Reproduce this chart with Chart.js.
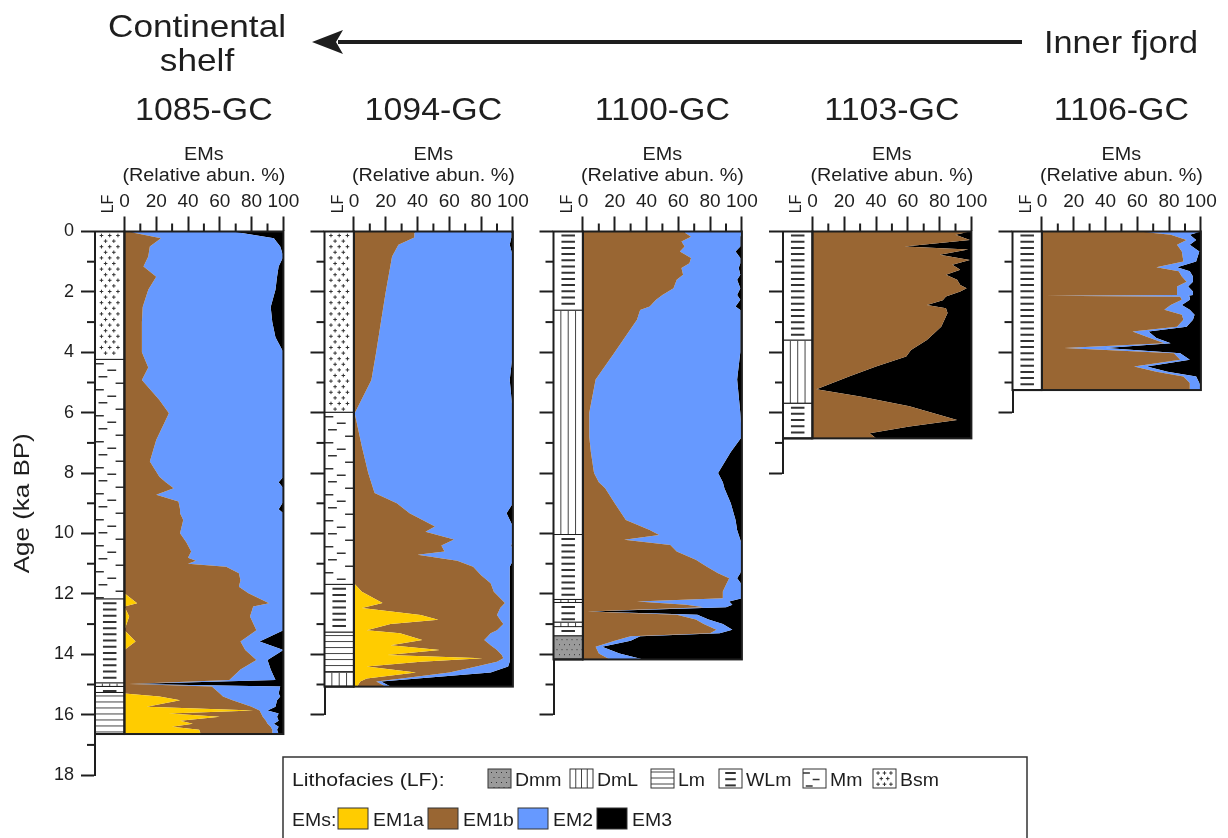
<!DOCTYPE html>
<html>
<head>
<meta charset="utf-8">
<script src="https://cdn.jsdelivr.net/npm/chart.js"></script>
<style>
  html, body { margin: 0; padding: 0; background: #fff; }
  #wrap { position: relative; width: 1228px; height: 838px; overflow: hidden; }
  #wrap canvas { position: absolute; left: 0; top: 0; }
</style>
</head>
<body>
<div id="wrap">
  <canvas id="c0" width="1228" height="838"></canvas>
  <canvas id="c1" width="1228" height="838"></canvas>
  <canvas id="c2" width="1228" height="838"></canvas>
  <canvas id="c3" width="1228" height="838"></canvas>
  <canvas id="c4" width="1228" height="838"></canvas>
</div>
<script>
// ---- data ----
const cores = ["1085-GC", "1094-GC", "1100-GC", "1103-GC", "1106-GC"];
const axisMax = [18, 16, 16, 8, 6];
const emNames = ["EM1a", "EM1b", "EM2", "EM3"];
const emColors = ["#FFCC00", "#996633", "#6699FF", "#000000"];
const lfKinds = ["Dmm", "DmL", "Lm", "WLm", "Mm", "Bsm"];
const xTicks = [0, 20, 40, 60, 80, 100];
const yTicks = [0, 2, 4, 6, 8, 10, 12, 14, 16, 18];

// 1085-GC
const age1085 = [0, 0.22, 0.5, 0.83, 1.16, 1.5, 1.93, 2.5, 3.0, 3.5, 4.0, 4.5, 4.92, 5.58, 6.02, 6.9, 7.62, 8.12, 8.3, 8.5,
  8.72, 8.94, 9.2, 9.33, 9.55, 9.99, 10.3, 10.6, 10.8, 10.9, 11.0, 11.1, 11.32, 11.55, 11.76, 11.98, 12.31, 12.42, 12.75, 13.2,
  13.58, 13.86, 14.19, 14.5, 14.85, 14.98, 15.07, 15.3, 15.4, 15.52, 15.74, 15.86, 15.96, 16.07, 16.2, 16.3, 16.4, 16.5, 16.64];
const em1a1085 = [0, 0, 0, 0, 0, 0, 0, 0, 0, 0, 0, 0, 0, 0, 0, 0, 0, 0, 0, 0,
  0, 0, 0, 0, 0, 0, 0, 0, 0, 0, 0, 0, 0, 0, 0, 0, 8, 0, 3, 0,
  7, 0, 0, 0, 0, 0, 0, 0, 22, 35, 14, 81, 28, 60, 35, 43, 30, 47, 48];
const em1b1085 = [2, 23, 16, 15, 12, 20, 15, 11.5, 11, 11, 11, 15, 11, 22, 28, 20, 16, 22, 26, 31,
  20, 34, 35, 35, 37, 35, 39, 42, 40, 45, 40, 64, 72, 73, 72, 78, 83, 81, 76, 83,
  66, 76, 83, 73, 66, 3, 55, 60, 40, 33, 66, 4, 58, 27, 54, 47, 62, 46, 45];
const em2_1085 = [66, 71, 82, 85, 85, 76, 80, 80.5, 82, 84, 89, 85, 89, 78, 72, 80, 84, 78, 71, 69,
  80, 66, 62, 65, 63, 65, 61, 58, 60, 55, 60, 36, 28, 27, 28, 22, 9, 19, 21, 17,
  12, 24, 7, 19, 29, 0, 43, 37, 36, 28, 15, 5, 11, 9, 8, 4, 5, 3, 4];
const em3_1085 = [32, 6, 2, 0, 3, 4, 5, 8, 7, 5, 0, 0, 0, 0, 0, 0, 0, 0, 3, 0,
  0, 0, 3, 0, 0, 0, 0, 0, 0, 0, 0, 0, 0, 0, 0, 0, 0, 0, 0, 0,
  15, 0, 10, 8, 5, 97, 2, 3, 2, 4, 5, 10, 3, 4, 3, 6, 3, 4, 3];
const lf1085 = [[0, 4.25, "Bsm"], [4.25, 12.18, "Mm"], [12.18, 14.96, "WLm"], [14.96, 15.08, "DmL"], [15.08, 15.28, "WLm"], [15.28, 16.64, "Lm"]];

// 1094-GC
const age1094 = [0, 0.2, 0.44, 0.83, 2.0, 3.0, 4.0, 4.92, 6.02, 7.12, 8.0, 8.66, 9.0, 9.33, 9.77, 9.94, 10.2, 10.4, 10.6, 10.7,
  10.9, 11.1, 11.38, 11.65, 11.93, 12.3, 12.47, 12.7, 12.86, 13.0, 13.2, 13.3, 13.53, 13.7, 13.86, 14.02, 14.13, 14.25, 14.4, 14.6,
  14.8, 14.9, 15.07];
const em1a1094 = [0, 0, 0, 0, 0, 0, 0, 0, 0, 0, 0, 0, 0, 0, 0, 0, 0, 0, 0, 0,
  0, 0, 0, 0, 5, 18, 5, 42, 53, 23, 8, 29, 43, 23, 54, 21, 81, 42, 8, 39,
  8, 4, 2];
const em1b1094 = [38, 38, 28, 24, 20, 17, 14, 11, 0.5, 5, 9, 13, 27, 35, 51, 45, 63, 55, 57, 40,
  65, 75, 80, 86, 83, 77, 87, 48, 39, 71, 82, 57, 39, 63, 36, 72, 13, 48, 69, 21,
  22, 10, 18];
const em2_1094 = [61, 61, 70, 76, 80, 83, 86, 87, 99.5, 95, 91, 87, 73, 61, 49, 55, 37, 44, 43, 60,
  35, 23, 18, 12, 10, 3, 6, 8, 6, 4, 8, 12, 16, 12, 8, 5, 4, 8, 20, 26,
  10, 3, 3];
const em3_1094 = [1, 1, 2, 0, 0, 0, 0, 2, 0, 0, 0, 0, 0, 4, 0, 0, 0, 1, 0, 0,
  0, 2, 2, 2, 2, 2, 2, 2, 2, 2, 2, 2, 2, 2, 2, 2, 2, 2, 3, 14,
  60, 83, 77];
const lf1094 = [[0, 6.0, "Bsm"], [6.0, 11.7, "Mm"], [11.7, 13.28, "WLm"], [13.28, 14.6, "Lm"], [14.6, 15.07, "DmL"]];

// 1100-GC
const age1100 = [0, 0.17, 0.33, 0.5, 0.66, 0.88, 1.05, 1.21, 1.43, 1.6, 1.88, 2.1, 2.26, 2.48, 2.6, 2.92, 4.0, 4.9, 6.0, 6.8,
  7.3, 8.0, 8.3, 8.5, 9.0, 9.55, 9.88, 10.05, 10.21, 10.38, 10.6, 10.87, 11.1, 11.32, 11.48, 11.7, 11.92, 12.14, 12.25, 12.36,
  12.44, 12.58, 12.69, 12.85, 13.0, 13.19, 13.3, 13.4, 13.55, 13.75, 13.97, 14.17];
const em1a1100 = [0, 0, 0, 0, 0, 0, 0, 0, 0, 0, 0, 0, 0, 0, 0, 0, 0, 0, 0, 0,
  0, 0, 0, 0, 0, 0, 0, 0, 0, 0, 0, 0, 0, 0, 0, 0, 0, 0, 0, 0,
  0, 0, 0, 0, 0, 0, 0, 0, 0, 0, 0, 0];
const em1b1100 = [63, 68, 62, 64, 61, 68, 67, 62, 63, 59, 57, 50, 46, 42, 36, 34, 20, 8, 4, 4,
  5, 7, 10, 14, 20, 27, 42, 48, 26, 55, 59, 71, 78, 85, 92, 90, 88, 88, 34, 65,
  76, 3, 59, 71, 76, 84, 80, 30, 20, 8, 10, 17];
const em2_1100 = [37, 31, 37, 35, 35, 31, 32, 36, 36, 38, 42, 47, 53, 54, 63, 65, 79, 89, 95, 96,
  88, 78, 78, 75, 73, 69, 55, 50, 73, 45, 41, 29, 22, 14, 5, 10, 12, 12, 58, 29,
  14, 1, 13, 8, 12, 10, 6, 6, 10, 4, 13, 21];
const em3_1100 = [0, 1, 1, 1, 4, 1, 1, 2, 1, 3, 1, 3, 1, 4, 1, 1, 1, 3, 1, 0,
  7, 15, 12, 11, 7, 4, 3, 2, 1, 0, 0, 0, 0, 1, 3, 0, 0, 0, 8, 6,
  10, 96, 28, 21, 12, 6, 14, 64, 70, 88, 77, 62];
const lf1100 = [[0, 2.62, "WLm"], [2.62, 10.05, "DmL"], [10.05, 12.2, "WLm"], [12.2, 12.3, "DmL"], [12.3, 12.95, "WLm"],
  [12.95, 13.1, "DmL"], [13.1, 13.4, "WLm"], [13.4, 14.17, "Dmm"]];

// 1103-GC
const age1103 = [0, 0.11, 0.28, 0.5, 0.6, 0.77, 0.94, 1.1, 1.27, 1.43, 1.6, 1.77, 1.88, 1.99, 2.15, 2.28, 2.43, 2.54, 2.7, 3.15,
  3.59, 3.92, 4.14, 4.47, 4.8, 5.22, 5.46, 5.79, 6.24, 6.46, 6.68, 6.85];
const em1a1103 = [0, 0, 0, 0, 0, 0, 0, 0, 0, 0, 0, 0, 0, 0, 0, 0, 0, 0, 0, 0,
  0, 0, 0, 0, 0, 0, 0, 0, 0, 0, 0, 0];
const em1b1103 = [99, 90, 99, 58, 98, 80, 99, 88, 93, 84, 91, 93, 97, 93, 84, 82, 72, 84, 85, 81,
  72, 62, 59, 40, 23, 2.5, 30, 61, 91, 61, 36, 40];
const em2_1103 = [0, 0, 0, 0, 0, 0, 0, 0, 0, 0, 0, 0, 0, 0, 0, 0, 0, 0, 0, 0,
  0, 0, 0, 0, 0, 0, 0, 0, 0, 0, 0, 0];
const em3_1103 = [1, 10, 1, 42, 2, 20, 1, 12, 7, 16, 9, 7, 3, 7, 16, 18, 28, 16, 15, 19,
  28, 38, 41, 60, 77, 97.5, 70, 39, 9, 39, 64, 60];
const lf1103 = [[0, 3.61, "WLm"], [3.61, 5.7, "DmL"], [5.7, 6.85, "WLm"]];

// 1106-GC
const age1106 = [0, 0.11, 0.28, 0.44, 0.66, 0.99, 1.18, 1.32, 1.49, 1.66, 1.82, 1.99, 2.1, 2.13, 2.16, 2.26, 2.43, 2.59, 2.76, 2.92,
  3.15, 3.31, 3.53, 3.7, 3.86, 4.03, 4.25, 4.47, 4.64, 4.8, 5.02, 5.25];
const em1a1106 = [0, 0, 0, 0, 0, 0, 0, 0, 0, 0, 0, 0, 0, 0, 0, 0, 0, 0, 0, 0,
  0, 0, 0, 0, 0, 0, 0, 0, 0, 0, 0, 0];
const em1b1106 = [61, 81, 91, 85, 88, 89, 72, 86, 88, 91, 85, 85, 85, 2, 87, 88, 81, 77, 88, 89,
  85, 57, 68, 77, 14, 83, 87, 58, 72, 89, 93, 93];
const em2_1106 = [39, 12, 6, 8, 11, 8, 13, 7, 7, 4, 7, 10, 10, 90, 6, 5, 7, 16, 8, 6,
  6, 10, 4, 4, 26, 4, 6, 8, 7, 8, 6, 7];
const em3_1106 = [0, 7, 3, 7, 1, 3, 15, 7, 5, 5, 8, 5, 5, 8, 7, 7, 12, 7, 4, 5,
  9, 33, 28, 19, 60, 13, 7, 34, 21, 3, 1, 0];
const lf1106 = [[0, 5.25, "WLm"]];

// ---- layout ----
const FONT = '"Liberation Sans", Arial, sans-serif';
const INK = "#1e1e1e";
const LFU = 18.5;            // LF column width in x units (left of 0)
const TOP = 231.5, PX_KA = 30.2;
const lfLeft = [95, 324.5, 553.5, 783, 1012.5];
const PLOT_W = 188.4;

const coreData = [
  {age: age1085, em: [em1a1085, em1b1085, em2_1085, em3_1085], lf: lf1085},
  {age: age1094, em: [em1a1094, em1b1094, em2_1094, em3_1094], lf: lf1094},
  {age: age1100, em: [em1a1100, em1b1100, em2_1100, em3_1100], lf: lf1100},
  {age: age1103, em: [em1a1103, em1b1103, em2_1103, em3_1103], lf: lf1103},
  {age: age1106, em: [em1a1106, em1b1106, em2_1106, em3_1106], lf: lf1106}
];

function line(ctx, x1, y1, x2, y2, w, c) {
  ctx.save();
  ctx.strokeStyle = c || INK;
  ctx.lineWidth = w;
  ctx.beginPath();
  ctx.moveTo(x1, y1);
  ctx.lineTo(x2, y2);
  ctx.stroke();
  ctx.restore();
}

function text(ctx, s, x, y, size, sx, align, rot) {
  ctx.save();
  ctx.font = size + "px " + FONT;
  ctx.fillStyle = INK;
  ctx.textAlign = align || "center";
  ctx.textBaseline = "alphabetic";
  ctx.translate(x, y);
  if (rot) ctx.rotate(rot);
  ctx.scale(sx || 1, 1);
  ctx.fillText(s, 0, 0);
  ctx.restore();
}

function drawFacies(ctx, type, x, y, w, h) {
  ctx.save();
  ctx.beginPath();
  ctx.rect(x, y, w, h);
  ctx.clip();
  ctx.fillStyle = type === "Dmm" ? "#9a9a9a" : "#fff";
  ctx.fillRect(x, y, w, h);
  if (type === "Lm") {
    for (let yy = y + 3; yy < y + h; yy += 6) line(ctx, x, yy, x + w, yy, 1, "#444");
  } else if (type === "WLm") {
    for (let yy = y + 4; yy < y + h - 1; yy += 6.2) line(ctx, x + w * 0.27, yy, x + w * 0.73, yy, 2, "#333");
  } else if (type === "DmL") {
    [0.25, 0.5, 0.75].forEach(f => line(ctx, x + w * f, y, x + w * f, y + h, 1, "#444"));
  } else if (type === "Mm") {
    const pos = [[0, 0.3], [0.42, 0.72], [0.12, 0.42], [0.7, 1.0]];
    let k = 0;
    for (let yy = y + 4; yy < y + h - 1; yy += 6.5, k++) {
      const p = pos[k % 4];
      line(ctx, x + w * p[0], yy, x + w * p[1], yy, 1.5, "#333");
    }
  } else if (type === "Bsm") {
    let k = 0;
    for (let yy = y + 4; yy < y + h - 2; yy += 5.6, k++) {
      const xs = k % 2 ? [0.36, 0.64] : [0.22, 0.5, 0.78];
      xs.forEach(f => {
        const cx = x + w * f;
        line(ctx, cx - 1.8, yy, cx + 1.8, yy, 1, "#333");
        line(ctx, cx, yy - 1.8, cx, yy + 1.8, 1, "#333");
      });
    }
  } else if (type === "Dmm") {
    ctx.fillStyle = "#333";
    let k = 0;
    for (let yy = y + 3; yy < y + h; yy += 5, k++) {
      for (let xx = x + 3 + (k % 2) * 2.5; xx < x + w; xx += 5) ctx.fillRect(xx, yy, 1, 1);
    }
  }
  ctx.restore();
}

const corePlugin = {
  id: "core",
  afterDraw(chart, args, o) {
    const ctx = chart.ctx, sx = chart.scales.x, sy = chart.scales.y;
    const left = sx.getPixelForValue(-LFU), zero = sx.getPixelForValue(0), right = sx.getPixelForValue(100);
    const top = sy.getPixelForValue(0), bot = sy.getPixelForValue(o.depth);
    o.lf.forEach(([a, b, t]) => {
      const ya = sy.getPixelForValue(a), yb = sy.getPixelForValue(b);
      drawFacies(ctx, t, left, ya, zero - left, yb - ya);
      line(ctx, left, yb, zero, yb, 2);
    });
    ctx.save();
    ctx.strokeStyle = INK;
    ctx.lineWidth = 2;
    ctx.strokeRect(left, top, zero - left, bot - top);
    ctx.strokeRect(zero, top, right - zero, bot - top);
    ctx.restore();
    // minor ticks
    for (let v = 1; v < o.axisMax; v += 2) {
      const p = sy.getPixelForValue(v);
      line(ctx, left - 8, p, left, p, 2);
    }
    for (let v = 10; v < 100; v += 20) {
      const p = sx.getPixelForValue(v);
      line(ctx, p, top - 8, p, top, 2);
    }
    ctx.save();
    ctx.translate((left + zero) / 2 - 1, 204);
    ctx.rotate(-Math.PI / 2);
    ctx.font = "16px " + FONT;
    ctx.fillStyle = INK;
    ctx.textAlign = "center";
    ctx.textBaseline = "middle";
    ctx.fillText("LF", 0, 0);
    ctx.restore();
    const cx = (zero + right) / 2;
    text(ctx, o.name, cx, 120, 32, 1.06);
    text(ctx, "EMs", cx, 160, 18, 1.1);
    text(ctx, "(Relative abun. %)", cx, 181, 18, 1.1);
    if (o.yTitle) text(ctx, o.yTitle, 29, (top + sy.getPixelForValue(o.axisMax)) / 2, 22, 1.18, "center", -Math.PI / 2);
  }
};

const pagePlugin = {
  id: "page",
  afterDraw(chart) {
    const ctx = chart.ctx;
    text(ctx, "Continental", 197, 37, 32, 1.1);
    text(ctx, "shelf", 197, 71, 32, 1.1);
    text(ctx, "Inner fjord", 1044, 53, 32, 1.07, "left");
    line(ctx, 338, 42, 1022, 42, 4);
    ctx.save();
    ctx.fillStyle = INK;
    ctx.beginPath();
    ctx.moveTo(312, 42);
    ctx.lineTo(343, 30);
    ctx.lineTo(336, 42);
    ctx.lineTo(343, 54);
    ctx.closePath();
    ctx.fill();
    ctx.restore();

    // legend
    ctx.save();
    ctx.strokeStyle = "#333";
    ctx.lineWidth = 1.5;
    ctx.strokeRect(283, 757, 744, 100);
    ctx.restore();
    text(ctx, "Lithofacies (LF):", 292, 786, 19, 1.12, "left");
    const lfX = [488, 570, 651, 719, 803, 873];
    lfKinds.forEach((k, i) => {
      drawFacies(ctx, k, lfX[i], 769, 23, 19);
      ctx.save();
      ctx.strokeStyle = "#333";
      ctx.lineWidth = 1;
      ctx.strokeRect(lfX[i], 769, 23, 19);
      ctx.restore();
      text(ctx, k, lfX[i] + 27, 786, 18, 1.08, "left");
    });
    text(ctx, "EMs:", 292, 826, 18, 1.08, "left");
    const emX = [338, 428, 518, 597];
    emNames.forEach((k, i) => {
      ctx.save();
      ctx.fillStyle = emColors[i];
      ctx.fillRect(emX[i], 808, 30, 21);
      ctx.strokeStyle = "#333";
      ctx.lineWidth = 1;
      ctx.strokeRect(emX[i], 808, 30, 21);
      ctx.restore();
      text(ctx, k, emX[i] + 35, 826, 18, 1.08, "left");
    });
  }
};

coreData.forEach((c, i) => {
  const depth = c.age[c.age.length - 1];
  const yW = i === 0 ? 87 : 20;
  const xH = 45;
  const bottom = TOP + axisMax[i] * PX_KA;
  new Chart(document.getElementById("c" + i), {
    type: "line",
    data: {
      datasets: emNames.map((nm, k) => ({
        label: nm,
        data: c.age.map((a, j) => ({x: c.em[k][j], y: a})),
        backgroundColor: emColors[k],
        borderColor: "transparent",
        borderWidth: 0,
        pointRadius: 0,
        tension: 0,
        fill: k === 0 ? "origin" : "-1"
      }))
    },
    options: {
      indexAxis: "y",
      responsive: false,
      animation: false,
      events: [],
      layout: {
        padding: {left: lfLeft[i] - yW, right: 1228 - (lfLeft[i] + PLOT_W), top: TOP - xH, bottom: 838 - bottom}
      },
      plugins: {
        legend: {display: false},
        tooltip: {enabled: false},
        core: {name: cores[i], lf: c.lf, depth: depth, axisMax: axisMax[i], yTitle: i === 0 ? "Age (ka BP)" : null}
      },
      scales: {
        x: {
          type: "linear",
          position: "top",
          stacked: true,
          min: -LFU,
          max: 100,
          afterBuildTicks: s => { s.ticks = xTicks.map(v => ({value: v})); },
          afterFit: s => { s.height = xH; },
          border: {display: true, color: INK, width: 2},
          grid: {drawOnChartArea: false, drawTicks: true, tickLength: 15, tickWidth: 2, tickColor: INK},
          ticks: {font: {family: FONT, size: 19}, color: INK, padding: 3, maxRotation: 0, autoSkip: false}
        },
        y: {
          type: "linear",
          reverse: true,
          min: 0,
          max: axisMax[i],
          afterBuildTicks: s => { s.ticks = yTicks.filter(v => v <= axisMax[i]).map(v => ({value: v})); },
          afterFit: s => { s.width = yW; },
          border: {display: true, color: INK, width: 2},
          grid: {drawOnChartArea: false, drawTicks: true, tickLength: 14, tickWidth: 2, tickColor: INK},
          ticks: {display: i === 0, font: {family: FONT, size: 18}, color: INK, padding: 7}
        }
      }
    },
    plugins: i === 0 ? [corePlugin, pagePlugin] : [corePlugin]
  });
});
</script>
</body>
</html>
